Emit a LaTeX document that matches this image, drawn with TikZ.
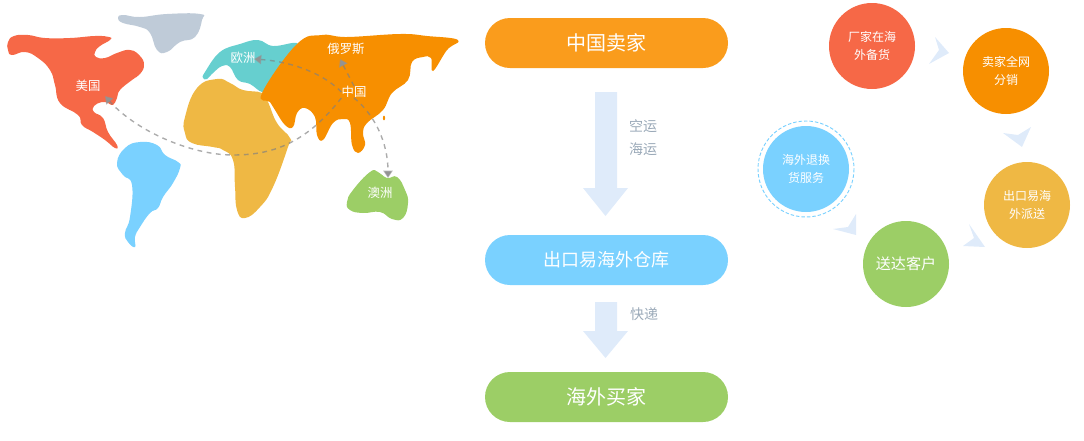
\documentclass[tikz,border=0pt]{standalone}
\usepackage{fontspec}
\setmainfont{Noto Sans CJK SC}
\usetikzlibrary{arrows.meta}
\definecolor{cRed}{HTML}{F66847}
\definecolor{cOrange}{HTML}{F78F00}
\definecolor{cPill}{HTML}{FA9C1C}
\definecolor{cYellow}{HTML}{EFB844}
\definecolor{cBlue}{HTML}{7AD1FF}
\definecolor{cGreen}{HTML}{9CCE66}
\definecolor{cTeal}{HTML}{66CFCF}
\definecolor{cSlate}{HTML}{BFCBD8}
\definecolor{cPale}{HTML}{DFEBFA}
\definecolor{cLabel}{HTML}{9AA9B8}
\newcommand{\dn}[1]{\raisebox{-1.1pt}{#1}}
\tikzset{
 land/.style={fill=#1,draw=none},
 pill/.style={fill=#1,rounded corners=25*0.75pt,minimum width=243*0.75pt,minimum height=50*0.75pt,inner sep=0pt,text=white},
 disc/.style={circle,fill=#1,minimum size=86*0.75pt,inner sep=0pt,text=white,align=center,font=\fontsize{9pt}{13.5pt}\selectfont},
 maplabel/.style={text=white,inner sep=0pt,font=\fontsize{9.3pt}{11pt}\selectfont},
 sidelabel/.style={text=cLabel,inner sep=0pt,font=\fontsize{10.5pt}{12pt}\selectfont},
 route/.style={draw=gray,draw opacity=.65,line width=1.05pt,dash pattern=on 3.6pt off 3.4pt,-{Triangle[length=5.5pt,width=7pt,color=gray!85,fill=gray!85]}},
 block/.style={fill=cPale,draw=none},
}
\begin{document}
\begin{tikzpicture}[x=0.75pt,y=-0.75pt]
\useasboundingbox (0,0) rectangle (1084,440);
% Land masses
\path[land=cSlate] plot[smooth cycle,tension=.8] coordinates {(118,18)(123,15)(140,17)(167,14)(200,14)(202,20)(195,37)(180,42)(167,52)(157,50)(150,33)(140,27)(123,23)};
\path[land=cRed] plot[smooth cycle,tension=.8] coordinates {(8,42)(14,36)(28,35)(45,38)(70,38)(95,36)(109,37)(110,40)(100,46)(95,52)(96,57)(105,58)(117,53)(130,50)(140,56)(144,65)(140,74)(132,80)(120,90)(117,98)(113,105)(108,103)(102,102)(94,106)(94,112)(103,118)(108,132)(117,145)(115,148)(105,140)(93,132)(82,125)(78,115)(60,103)(55,85)(50,70)(38,58)(25,52)(12,55)(8,50)};
\path[land=cBlue] plot[smooth cycle,tension=.8] coordinates {(117,163)(125,148)(140,142)(157,145)(165,155)(178,162)(180,168)(173,183)(163,197)(158,208)(150,213)(140,227)(135,237)(135,247)(128,242)(125,233)(130,217)(132,185)(123,175)};
\path[land=cYellow] plot[smooth cycle,tension=.8] coordinates {(217,79)(230,83)(243,90)(262,93)(268,102)(277,123)(290,138)(288,147)(273,187)(260,207)(245,218)(237,210)(235,187)(233,160)(223,150)(213,147)(192,143)(185,133)(185,117)(197,88)};
\path[land=cTeal] plot[smooth cycle,tension=.7] coordinates {(203,78)(205,72)(220,52)(240,44)(258,40)(273,46)(298,44)(283,66)(268,87)(262,92)(250,84)(238,80)(230,67)(222,66)(213,73)(207,79)};
\path[land=cOrange] plot[smooth cycle,tension=.7] coordinates {(297,44)(322,35)(347,37)(400,34)(427,36)(458,40)(447,50)(433,71)(431,58)(423,57)(412,62)(408,80)(392,93)(383,110)(367,123)(363,133)(365,145)(358,153)(352,145)(350,123)(343,119)(333,123)(323,140)(317,135)(315,117)(305,108)(297,113)(293,127)(285,125)(275,110)(270,102)(262,93)};
\path[land=cOrange] (384,118) ellipse (1.1 and 2.4);
\path[land=cGreen] plot[smooth cycle,tension=.8] coordinates {(347,202)(353,190)(370,172)(378,172)(387,178)(397,177)(405,190)(408,203)(403,218)(392,219)(380,212)(363,213)(350,210)};
% Map labels
\node[maplabel] (usa) at (88,86) {美国};
\node[maplabel] (eu) at (243,58) {欧洲};
\node[maplabel] (ru) at (346,49) {俄罗斯};
\node[maplabel] (cn) at (354,92) {中国};
\node[maplabel] (au) at (380,193) {澳洲};
\coordinate (usaEnd) at (105,96);
\coordinate (usaMid) at (233,155);
\coordinate (euEnd) at (254,59);
\coordinate (ruEnd) at (340,59);
\coordinate (auEnd) at (388,178);
% Routes
\draw[route] (cn.south west) .. controls (305,145) and (270,155) .. (usaMid) .. controls (190,155) and (135,130) .. (usaEnd);
\draw[route] (cn.west) .. controls (325,75) and (295,62) .. (euEnd);
\draw[route] (cn.north) -- (ruEnd);
\draw[route] (cn.south) .. controls (374,114) and (388,142) .. (auEnd);
% Flow column
\node[pill=cPill,font=\fontsize{15pt}{18pt}\selectfont] (seller) at (606.5,43) {\dn{中国卖家}};
\node[pill=cBlue,font=\fontsize{13.5pt}{16pt}\selectfont] (store) at (606.5,260) {\raisebox{-.6pt}{出口易海外仓库}};
\node[pill=cGreen,font=\fontsize{15pt}{18pt}\selectfont] (buyer) at (606.5,397) {\raisebox{-.6pt}{海外买家}};
\path[block] (595,92)--(617,92)--(617,188)--(628,188)--(605.5,216)--(583,188)--(595,188)--cycle;
\path[block] (595,302)--(617,302)--(617,331)--(628,331)--(605.5,358)--(583,331)--(595,331)--cycle;
\node[sidelabel] (air) at (643,126) {空运};
\node[sidelabel] (sea) at (643,149) {海运};
\node[sidelabel] (exp) at (644,314) {快递};
% Cycle
\node[disc=cRed] (c1) at (872,46) {\dn{厂家在海}\\\dn{外备货}};
\node[disc=cOrange] (c2) at (1006,71) {\dn{卖家全网}\\\dn{分销}};
\node[disc=cYellow] (c3) at (1027,205) {\dn{出口易海}\\\dn{外派送}};
\node[disc=cGreen,font=\fontsize{11.3pt}{14pt}\selectfont] (c4) at (906,264) {送达客户};
\node[disc=cBlue] (c5) at (806,169) {\dn{海外退换}\\\dn{货服务}};
\draw[cBlue,line width=0.7pt,dash pattern=on 2.6pt off 1.5pt] (c5.center) circle (48);
\path[block] (935,37)--(949,53)--(929,64)--(939,50)--cycle;
\path[block] (1031,127)--(1022,147)--(1003,133)--(1018,135)--cycle;
\path[block] (969,224)--(985,247)--(963,246)--(974,238)--cycle;
\path[block] (856,214)--(856,235)--(833,229)--(848,227)--cycle;
\end{tikzpicture}
\end{document}
